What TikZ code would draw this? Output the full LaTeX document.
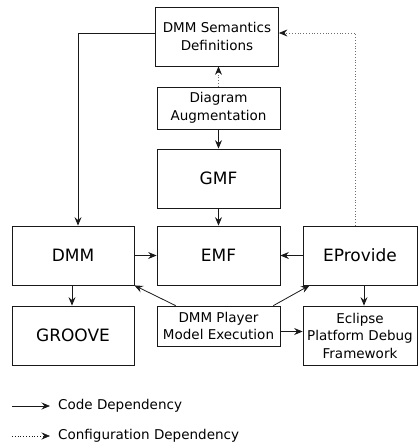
\documentclass[tikz,border=0pt]{standalone}
\usepackage{fontspec}
\setmainfont{DejaVu Sans}
\usepackage{tikz}
\usetikzlibrary{arrows.meta, positioning, calc}
\definecolor{mydark}{RGB}{25,25,25}
\definecolor{mygray}{RGB}{110,110,110}
\tikzset{
  block/.style={rectangle, draw=mydark, fill=white, align=center,
    minimum width=123pt, minimum height=59pt, inner sep=1pt,
    font=\fontsize{13.5}{17.5}\selectfont, line width=0.8pt},
  bigblock/.style={block, font=\fontsize{17}{20}\selectfont},
  arrow/.style={-{Stealth[length=8.5pt, width=7pt, inset=3pt]}, line width=0.8pt, color=mydark},
  dotarrow/.style={-{Stealth[length=8.5pt, width=7pt, inset=3pt, color=mydark]}, line width=0.8pt, dotted, color=mygray},
  legendtext/.style={anchor=west, font=\fontsize{13.5}{16}\selectfont, inner sep=0pt}
}

\begin{document}
\begin{tikzpicture}[x=1pt, y=-1pt]
  \useasboundingbox (0,0) rectangle (418,448);

  % Boxes
  \node[block] (sem) at (217,36.5) {DMM Semantics\\Definitions};
  \node[block, minimum height=42pt] (aug) at (218.5,108) {Diagram\\Augmentation};
  \node[bigblock] (gmf) at (218.5,178.5) {GMF};
  \node[bigblock, minimum width=122pt] (dmm) at (73,255.5) {DMM};
  \node[bigblock] (emf) at (218.5,255.5) {EMF};
  \node[bigblock, minimum width=114pt] (epr) at (360,255.5) {EProvide};
  \node[bigblock, minimum width=122pt] (groove) at (73,335.5) {GROOVE};
  \node[block, minimum height=40pt] (player) at (218.5,326) {DMM Player\\Model Execution};
  \node[block, minimum width=114pt] (eclipse) at (360,335.5) {Eclipse\\Platform Debug\\Framework};

  % Dependencies
  \draw[arrow] ([yshift=3.5pt]sem.west) -| ([xshift=5pt]dmm.north);
  \draw[dotarrow] (aug.north) -- (aug.north |- sem.south);
  \draw[arrow] (aug.south) -- (gmf.north);
  \draw[arrow] (gmf.south) -- (emf.north);
  \draw[arrow] (dmm.east) -- (emf.west);
  \draw[arrow] (epr.west) -- (emf.east);
  \draw[dotarrow] ([xshift=-5pt]epr.north) |- ([yshift=3.5pt]sem.east);
  \draw[arrow] ([xshift=-1pt]dmm.south) -- ([xshift=-1pt]groove.north);
  \draw[arrow] ([xshift=4pt]epr.south) -- ([xshift=4pt]eclipse.north);
  \draw[arrow] ([xshift=19pt]player.north west) -- (dmm.south east);
  \draw[arrow] ([xshift=-7pt]player.north east) -- ([xshift=7pt]epr.south west);
  \draw[arrow] ([yshift=-5.5pt]player.east) -- ([yshift=-5.5pt]player.east -| eclipse.west);

  % Legend
  \coordinate (codeA) at (12,406);
  \coordinate (codeB) at (50,406);
  \coordinate (confA) at (12,436);
  \coordinate (confB) at (50,436);
  \draw[arrow] (codeA) -- (codeB);
  \draw[arrow, dotted, line width=0.6pt] (confA) -- (confB);
  \node[legendtext] (codetxt) at (58,406) {Code Dependency};
  \node[legendtext] (conftxt) at (58,436) {Configuration Dependency};
\end{tikzpicture}
\end{document}
